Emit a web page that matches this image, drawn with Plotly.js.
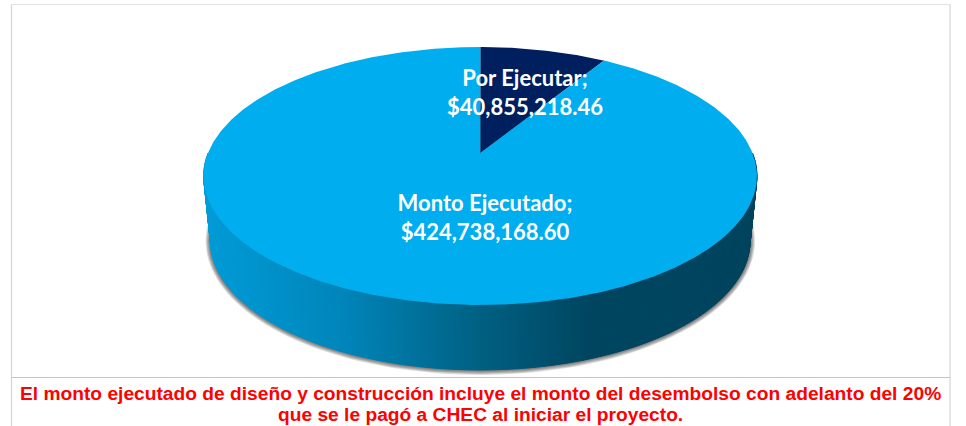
<!DOCTYPE html>
<html><head><meta charset="utf-8">
<script src="https://cdn.plot.ly/plotly-3.0.1.min.js"></script>
<style>html,body{margin:0;padding:0;background:#fff}#c{width:966px;height:426px}</style>
</head><body><div id="c"></div>
<script>
const categories = ['Por Ejecutar', 'Monto Ejecutado'];
const values = [40855218.46, 424738168.60];
const noteLines = [
  'El monto ejecutado de diseño y construcción incluye el monto del desembolso con adelanto del 20%',
  'que se le pagó a CHEC al iniciar el proyecto.'
];

// Drawing settings (a tilted pie seen in perspective, in pixel-scaled axes)
const sliceColors = ['#001F5F', '#00AEEF'];
const labelPos = [[525, 95], [485, 220]];
const view = {cx: 480.3, cy: 153, a: 272.2, b: 124.9, k: 0.178, depth: 65, baseScale: 0.975};
const wallStops = [[0, [0, 156, 216]], [0.25, [0, 133, 186]], [0.5, [0, 96, 130]], [0.7, [0, 69, 96]], [1, [0, 68, 94]]];

function rim(theta) {
  const u = Math.sin(theta), v = Math.cos(theta), w = 1 + view.k * v;
  return [view.cx + view.a * u / w, view.cy - view.b * v / w];
}
function baseRim(theta) {
  const p = rim(theta);
  return [view.cx + view.baseScale * (p[0] - view.cx), p[1] + view.depth];
}
function wallColor(x) {
  const t = Math.min(1, Math.max(0, (x - 203) / 554));
  for (let i = 1; i < wallStops.length; i++) {
    if (t <= wallStops[i][0]) {
      const [t0, c0] = wallStops[i - 1], [t1, c1] = wallStops[i];
      const f = (t - t0) / (t1 - t0);
      return 'rgb(' + c0.map((c, j) => Math.round(c + (c1[j] - c) * f)).join(',') + ')';
    }
  }
  return 'rgb(0,68,94)';
}
function poly(pts, color, lineWidth) {
  return {type: 'scatter', mode: 'lines', x: pts.map(p => p[0]), y: pts.map(p => p[1]),
    fill: 'toself', fillcolor: color, line: {color: color, width: lineWidth || 0},
    hoverinfo: 'skip', showlegend: false};
}

const traces = [];
// soft shadow under the base
for (let d = 5; d >= 1; d--) {
  const pts = [];
  for (let i = 0; i <= 180; i++) {
    const p = baseRim(i / 180 * 2 * Math.PI);
    const cxb = view.cx, cyb = 241;
    const sx = (270 + d) / 270, sy = (128 + d) / 128;
    pts.push([cxb + (p[0] - cxb) * sx, cyb + (p[1] - cyb) * sy]);
  }
  traces.push(poly(pts, 'rgba(30,30,30,0.16)'));
}
// side wall
const N = 220;
for (let i = 0; i < N; i++) {
  const t0 = Math.PI / 2 + i / N * Math.PI, t1 = Math.PI / 2 + (i + 1) / N * Math.PI;
  const a = rim(t0), b = rim(t1), c = baseRim(t1), d = baseRim(t0);
  traces.push(poly([a, b, c, d, a], wallColor((a[0] + b[0]) / 2), 1));
}
// top face: slices sized from the values
const total = values.reduce((s, v) => s + v, 0);
let start = 0;
values.forEach((val, idx) => {
  const sweep = val / total * 2 * Math.PI, pts = [[view.cx, view.cy]];
  const steps = Math.ceil(sweep / 0.01);
  for (let i = 0; i <= steps; i++) pts.push(rim(start + sweep * i / steps));
  pts.push([view.cx, view.cy]);
  traces.push(poly(pts, sliceColors[idx]));
  start += sweep;
});
// data labels
const fmt = v => '$' + v.toLocaleString('en-US', {minimumFractionDigits: 2, maximumFractionDigits: 2});
traces.push({type: 'scatter', mode: 'text', x: labelPos.map(p => p[0]), y: labelPos.map(p => p[1]),
  text: categories.map((c, i) => c + ';<br>' + fmt(values[i])), textposition: 'middle center',
  textfont: {family: 'Lato, "Open Sans", sans-serif', size: 22, color: '#ffffff', weight: 700},
  hoverinfo: 'skip', showlegend: false, cliponaxis: false});

const border = '#d4d4d4';
const line = (x0, y0, x1, y1, color) => ({type: 'line', xref: 'x', yref: 'y', x0, y0, x1, y1, line: {color, width: 1.2}});
const layout = {
  width: 966, height: 426, margin: {l: 0, r: 0, t: 0, b: 0},
  paper_bgcolor: '#ffffff', plot_bgcolor: '#ffffff', showlegend: false,
  xaxis: {range: [0, 966], visible: false, fixedrange: true},
  yaxis: {range: [426, 0], visible: false, fixedrange: true},
  shapes: [
    line(11.5, 4.5, 950, 4.5, '#e2e2e2'), line(11.5, 4.5, 11.5, 426, border),
    line(950, 4.5, 950, 426, border), line(11.5, 377.5, 950, 377.5, '#c4c4c4')
  ],
  annotations: noteLines.map((t, i) => ({
    text: '<b>' + t + '</b>', x: 480.5, y: 393 + i * 21.5, xref: 'x', yref: 'y', showarrow: false,
    xanchor: 'center', yanchor: 'middle',
    font: {family: '"Liberation Sans", Arial, sans-serif', size: 19.2, color: '#ff0000'}
  }))
};
Plotly.newPlot('c', traces, layout, {displayModeBar: false, staticPlot: true});
</script></body></html>
